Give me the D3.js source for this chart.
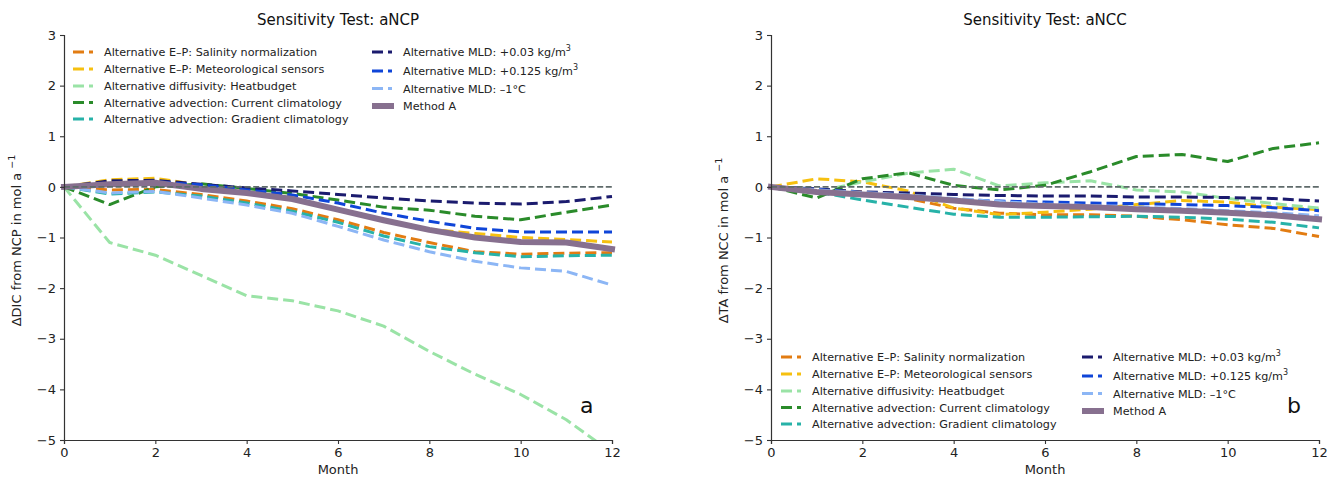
<!DOCTYPE html>
<html>
<head>
<meta charset="utf-8">
<script src="https://cdn.jsdelivr.net/npm/d3@7"></script>
<style>
  body { margin: 0; background: #fff; }
  svg { display: block; font-family: "DejaVu Sans", sans-serif; }
</style>
</head>
<body>
<svg id="chart" width="1327" height="480"></svg>
<script>
// Months 0..12
const months = [0, 1, 2, 3, 4, 5, 6, 7, 8, 9, 10, 11, 12];
const xTicks = [0, 2, 4, 6, 8, 10, 12];
const yTicks = [3, 2, 1, 0, -1, -2, -3, -4, -5];

const seriesNames = [
  "Alternative E\u2013P: Salinity normalization",
  "Alternative E\u2013P: Meteorological sensors",
  "Alternative diffusivity: Heatbudget",
  "Alternative advection: Current climatology",
  "Alternative advection: Gradient climatology",
  "Alternative MLD: +0.03 kg/m",
  "Alternative MLD: +0.125 kg/m",
  "Alternative MLD: \u20131\u00b0C",
  "Method A"
];
const seriesColors = ["#e27c12", "#f6c010", "#9ae3a6", "#2a8b2a", "#27b2a8", "#1b1b6e", "#0f45d8", "#8cb6f5", "#87708f"];

// aNCP panel: ΔDIC from NCP (mol a^-1)
const ncpSalinity   = [0, -0.06, -0.05, -0.15, -0.28, -0.43, -0.65, -0.9, -1.1, -1.28, -1.33, -1.31, -1.3];
const ncpMeteo      = [0, 0.14, 0.17, 0.03, -0.1, -0.24, -0.45, -0.66, -0.84, -0.92, -1.0, -1.04, -1.09];
const ncpDiffusion  = [0, -1.1, -1.35, -1.75, -2.15, -2.25, -2.45, -2.75, -3.25, -3.7, -4.1, -4.6, -5.25];
const ncpCurrent    = [0, -0.35, 0.0, 0.06, -0.03, -0.13, -0.26, -0.4, -0.46, -0.58, -0.65, -0.5, -0.36];
const ncpGradient   = [0, -0.14, -0.1, -0.18, -0.32, -0.48, -0.7, -0.97, -1.18, -1.3, -1.38, -1.36, -1.35];
const ncpMld003     = [0, 0.12, 0.13, 0.05, -0.02, -0.08, -0.15, -0.22, -0.28, -0.32, -0.34, -0.29, -0.19];
const ncpMld0125    = [0, 0.05, 0.1, 0.04, -0.06, -0.16, -0.32, -0.52, -0.68, -0.82, -0.89, -0.89, -0.89];
const ncpMld1C      = [0, -0.12, -0.09, -0.22, -0.36, -0.52, -0.78, -1.05, -1.28, -1.47, -1.6, -1.67, -1.94];
const ncpMethodA    = [0, 0.05, 0.08, -0.04, -0.12, -0.24, -0.45, -0.66, -0.85, -1.0, -1.09, -1.1, -1.23];

// aNCC panel: ΔTA from NCC (mol a^-1)
const nccSalinity   = [0, -0.05, -0.1, -0.23, -0.42, -0.52, -0.55, -0.55, -0.58, -0.65, -0.75, -0.82, -0.98];
const nccMeteo      = [0, 0.16, 0.1, -0.08, -0.42, -0.55, -0.5, -0.44, -0.35, -0.27, -0.3, -0.4, -0.45];
const nccDiffusion  = [0, -0.1, 0.1, 0.27, 0.35, 0.02, 0.08, 0.12, -0.06, -0.1, -0.23, -0.33, -0.42];
const nccCurrent    = [0, -0.22, 0.16, 0.28, 0.03, -0.06, 0.03, 0.3, 0.6, 0.64, 0.5, 0.76, 0.87];
const nccGradient   = [0, -0.1, -0.26, -0.4, -0.54, -0.6, -0.6, -0.59, -0.58, -0.6, -0.64, -0.7, -0.81];
const nccMld003     = [0, -0.04, -0.1, -0.12, -0.15, -0.17, -0.18, -0.18, -0.2, -0.2, -0.21, -0.23, -0.28];
const nccMld0125    = [0, -0.05, -0.12, -0.2, -0.25, -0.28, -0.3, -0.32, -0.33, -0.35, -0.37, -0.41, -0.47];
const nccMld1C      = [0, -0.06, -0.11, -0.16, -0.23, -0.29, -0.34, -0.37, -0.4, -0.43, -0.47, -0.51, -0.57];
const nccMethodA    = [0, -0.1, -0.15, -0.2, -0.27, -0.35, -0.38, -0.4, -0.44, -0.47, -0.51, -0.56, -0.64];

const panels = [
  {
    title: "Sensitivity Test: aNCP",
    yPrefix: "\u0394DIC from NCP in mol a",
    letter: "a",
    x0: 64, x1: 612,
    series: [ncpSalinity, ncpMeteo, ncpDiffusion, ncpCurrent, ncpGradient, ncpMld003, ncpMld0125, ncpMld1C, ncpMethodA],
    legendX: [73, 372], legendY: 35
  },
  {
    title: "Sensitivity Test: aNCC",
    yPrefix: "\u0394TA from NCC in mol a",
    letter: "b",
    x0: 771, x1: 1319,
    series: [nccSalinity, nccMeteo, nccDiffusion, nccCurrent, nccGradient, nccMld003, nccMld0125, nccMld1C, nccMethodA],
    legendX: [781, 1082], legendY: 340
  }
];

const svg = d3.select("#chart");
const yTop = 35, yBot = 440;
const fmt = v => (v < 0 ? "\u2212" + Math.abs(v) : String(v));

panels.forEach((p, pi) => {
  const x = d3.scaleLinear().domain([0, 12]).range([p.x0, p.x1]);
  const y = d3.scaleLinear().domain([-5, 3]).range([yBot, yTop]);
  const g = svg.append("g");

  const clipId = "clip" + pi;
  svg.append("defs").append("clipPath").attr("id", clipId)
    .append("rect").attr("x", p.x0 - 4).attr("y", yTop).attr("width", p.x1 - p.x0 + 8).attr("height", yBot - yTop);

  const line = d3.line().x((d, i) => x(months[i])).y(d => y(d));
  const plot = g.append("g").attr("clip-path", `url(#${clipId})`);

  p.series.forEach((vals, si) => {
    const isA = si === 8;
    plot.append("path")
      .attr("d", line(vals))
      .attr("fill", "none")
      .attr("stroke", seriesColors[si])
      .attr("stroke-width", isA ? 6 : 3)
      .attr("stroke-linecap", isA ? "square" : "butt")
      .attr("stroke-linejoin", "round")
      .attr("stroke-dasharray", isA ? null : "11,5");
  });

  // reference line at zero
  plot.append("line")
    .attr("x1", x(0)).attr("x2", x(12))
    .attr("y1", y(0)).attr("y2", y(0))
    .attr("stroke", "#5f6b6b").attr("stroke-width", 1.6)
    .attr("stroke-dasharray", "6,2.6");

  // axes
  const xAxis = d3.axisBottom(x).tickValues(xTicks).tickSize(4).tickPadding(4).tickFormat(d => d);
  const yAxis = d3.axisLeft(y).tickValues(yTicks).tickSize(4).tickPadding(4).tickFormat(fmt);
  const gx = g.append("g").attr("transform", `translate(0,${yBot})`).call(xAxis);
  const gy = g.append("g").attr("transform", `translate(${p.x0},0)`).call(yAxis);
  [gx, gy].forEach(a => {
    a.select(".domain").attr("stroke", "#333").attr("stroke-width", 1.2);
    a.selectAll(".tick line").attr("stroke", "#333").attr("stroke-width", 1.1);
    a.selectAll(".tick text").attr("font-size", 13).attr("fill", "#222")
      .attr("font-family", "DejaVu Sans, sans-serif");
  });

  // title and axis labels
  const cx = (p.x0 + p.x1) / 2;
  g.append("text").attr("x", cx).attr("y", 25).attr("text-anchor", "middle")
    .attr("font-size", 15).attr("fill", "#111").text(p.title);
  g.append("text").attr("x", cx).attr("y", 474).attr("text-anchor", "middle")
    .attr("font-size", 13).attr("fill", "#222").text("Month");
  const yl = g.append("text")
    .attr("transform", `translate(${p.x0 - 43},${(yTop + yBot) / 2 + 3}) rotate(-90)`)
    .attr("text-anchor", "middle").attr("font-size", 13).attr("fill", "#222");
  yl.append("tspan").text(p.yPrefix + " ");
  yl.append("tspan").attr("dy", -6).attr("font-size", 9.5).text("\u22121");

  g.append("text").attr("x", p.x1 - 32).attr("y", 413).attr("font-size", 22).attr("fill", "#111").text(p.letter);

  // legend, two columns (5 + 4 entries)
  const rowsY = [
    [52, 69, 86, 102.5, 119],
    [52, 71, 88.5, 106]
  ];
  seriesNames.forEach((name, si) => {
    const col = si < 5 ? 0 : 1;
    const row = col === 0 ? si : si - 5;
    const ly = p.legendY - 35 + rowsY[col][row];
    const lx = p.legendX[col];
    const lg = g.append("g");
    if (si === 8) {
      lg.append("line").attr("x1", lx + 3).attr("x2", lx + 19).attr("y1", ly).attr("y2", ly)
        .attr("stroke", seriesColors[si]).attr("stroke-width", 6).attr("stroke-linecap", "square");
    } else {
      lg.append("line").attr("x1", lx).attr("x2", lx + 20).attr("y1", ly).attr("y2", ly)
        .attr("stroke", seriesColors[si]).attr("stroke-width", 3).attr("stroke-dasharray", "11,5");
    }
    const t = lg.append("text").attr("x", lx + 31).attr("y", ly + 4)
      .attr("font-size", 11.2).attr("fill", "#222").text(name);
    if (si === 5 || si === 6) {
      t.append("tspan").attr("dy", -5).attr("font-size", 8).text("3");
    }
  });
});
</script>
</body>
</html>
